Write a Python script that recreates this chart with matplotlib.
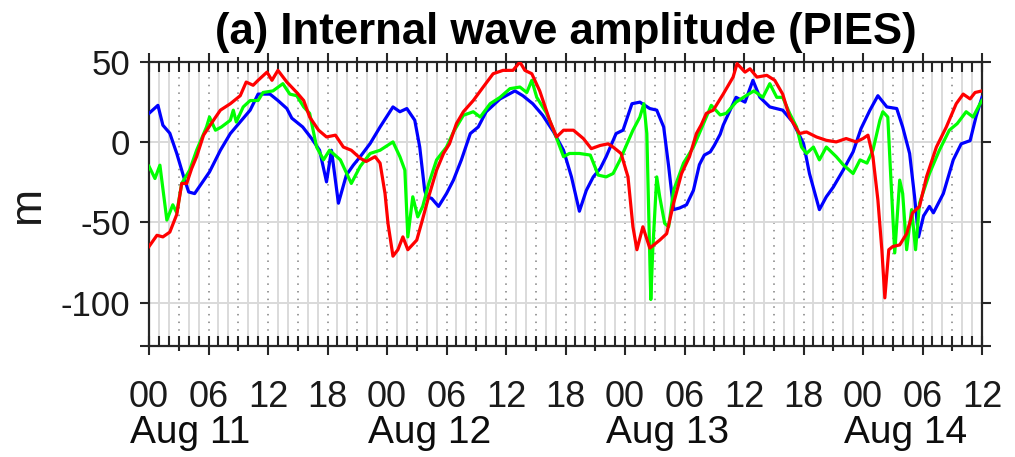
import matplotlib
matplotlib.use('Agg')
import matplotlib.pyplot as plt
from matplotlib.ticker import MultipleLocator, NullFormatter

# ---------------- data (hours since Aug 11 00:00, amplitude in m) ----------------
blue_hours = [0, 0.9, 1.4, 2.1, 2.8, 3.5, 4.0, 4.6, 5.3, 6.1, 7.2, 8.2, 9.2, 10.2, 11.0,
              12.2, 13.0, 13.9, 14.4, 15.5, 16.4, 17.2, 17.9, 18.4, 19.1, 19.9, 20.6,
              21.3, 22.3, 23.3, 24.6, 25.3, 26.0, 26.8, 27.3, 27.8, 28.0, 28.5, 29.2,
              30.0, 30.7, 31.5, 32.4, 33.2, 34.0, 35.4, 36.9, 37.7, 38.7, 39.7, 40.8,
              41.8, 42.6, 43.4, 44.1, 44.8, 45.5, 46.1, 47.1, 47.8, 48.7, 49.5, 50.5,
              51.2, 51.9, 52.4, 52.9, 53.5, 54.2, 54.9, 55.5, 56.0, 56.6, 57.0, 57.6,
              57.9, 59.2, 60.1, 60.9, 61.6, 62.6, 63.9, 64.9, 66.0, 66.6, 67.6, 68.3,
              69.0, 70.0, 71.0, 71.8, 72.7, 73.5, 74.4, 75.4, 76.0, 76.7, 77.2, 77.6,
              78.1, 78.7, 79.1, 80.1, 81.1, 81.9, 82.8, 83.4, 84.0]
blue_values = [18, 23, 10.6, 5.6, -7, -21.6, -31, -32, -25.7, -18.5, -5, 5.4, 12.7, 20, 30,
               30, 26, 21, 15, 9.5, 2.3, -5, -24.7, -5, -38, -20.5, -14.3,
               -9, -0.8, 9.5, 22, 19, 21, 13.7, -3, -30, -34, -35, -40,
               -32, -23.6, -11, 5.4, 9.5, 19, 27, 32, 29, 24, 16.8, 6.4,
               -5, -21.6, -43, -30, -21.6, -16.4, -9, 5.4, 7.5, 24, 25, 21,
               20, 9.5, -15, -42, -41, -39, -30, -14, -8, -6, -2, 5,
               10.6, 28, 25, 38.6, 28, 22, 20, 12.7, -0.8, -19.5, -42, -34,
               -28, -17.4, -6, 8.5, 20, 29, 22, 21, 9.5, -7, -34, -59,
               -46, -40, -44, -32, -11, -1, 1, 16, 28]

green_hours = [0, 0.6, 1.1, 1.8, 2.4, 2.8, 3.3, 4.1, 4.8, 5.8, 6.1, 6.7, 7.3, 8.2, 8.5,
               8.8, 9.5, 10.2, 11.0, 11.5, 12.5, 13.5, 14.2, 14.9, 15.6, 16.2, 16.9,
               17.6, 18.2, 19.3, 20.4, 21.3, 22.3, 23.3, 24.6, 25.3, 25.8, 26.1, 26.6,
               27.1, 27.6, 28.2, 29.0, 30.0, 30.7, 31.7, 32.7, 33.4, 34.4, 35.4, 36.4,
               37.4, 38.1, 38.6, 39.1, 40.1, 40.8, 41.8, 42.4, 43.4, 44.5, 45.3, 46.1,
               46.8, 47.5, 48.2, 48.8, 49.5, 49.9, 50.2, 50.4, 50.6, 50.8, 51.2, 51.5,
               52.0, 52.4, 52.9, 53.4, 53.9, 54.9, 55.7, 56.7, 57.6, 58.2, 59.2, 60.2,
               61.0, 61.9, 62.6, 63.3, 63.9, 64.6, 65.3, 65.8, 66.3, 67.0, 67.6, 68.3,
               69.3, 70.0, 71.0, 71.7, 72.4, 73.0, 73.7, 74.0, 74.5, 74.8, 75.2, 75.7,
               76.0, 76.4, 76.9, 77.3, 77.7, 78.7, 79.7, 80.7, 81.5, 82.4, 83.1, 83.8,
               84.0]
green_values = [-15, -22.6, -14.3, -48.5, -39, -44, -25.7, -17.4, -5, 9.5, 15.7, 7.5, 9.5, 13.7, 20,
                12.6, 22, 26, 26, 31, 32, 36.5, 30, 29, 22, 18, -3,
                -11, -5, -11, -25.7, -15, -7, -5, 0.2, -9, -17.4, -59, -34,
                -46.5, -40, -26, -11, -3, 6.4, 16.8, 19, 15.7, 24, 28, 33.4,
                34.4, 31, 38.6, 28, 18, 7.5, -9, -7, -7, -8, -20.5, -21.6,
                -19.5, -11, -1, 7.5, 15.7, 24, 5.4, -46.5, -98, -67, -21.6, -34,
                -50.6, -52.7, -30, -21.6, -13, -3, 8.5, 23, 17, 18, 25, 29,
                32, 28, 36.5, 28, 28, 18, 9.5, -3, -7, -3, -11, -3,
                -9, -14, -19.5, -11, -13, -5, 13.7, 19, 15.7, -21.6, -69, -23.6,
                -32, -67, -42, -67, -38, -19.5, -5, 7.5, 11.6, 19, 15.7, 24,
                26]

red_hours = [0, 0.8, 1.4, 2.1, 2.8, 3.3, 3.8, 4.3, 4.8, 5.5, 6.5, 7.2, 8.2, 9.2, 9.8,
             10.5, 11.0, 11.9, 12.4, 13.0, 13.9, 14.9, 15.6, 16.2, 17.1, 17.9, 18.8,
             19.6, 20.4, 21.3, 21.9, 22.8, 23.3, 23.8, 24.1, 24.6, 25.1, 25.6, 26.1,
             27.0, 27.5, 28.2, 29.0, 29.7, 30.3, 31.0, 31.7, 32.7, 33.7, 34.7, 35.7,
             36.7, 37.4, 37.9, 38.6, 39.4, 40.4, 41.1, 41.8, 42.8, 43.8, 44.6, 45.5,
             46.3, 46.8, 47.6, 48.3, 48.8, 49.2, 49.8, 50.5, 51.5, 52.2, 52.9, 53.7,
             54.5, 55.2, 55.7, 56.2, 56.9, 57.9, 58.9, 59.3, 60.1, 60.6, 61.3, 62.3,
             63.1, 63.9, 64.6, 65.6, 66.3, 67.3, 68.3, 69.3, 70.3, 71.3, 72.0, 72.5,
             73.0, 73.5, 73.9, 74.2, 74.6, 75.0, 75.7, 76.4, 77.0, 77.7, 78.4, 79.4,
             80.4, 81.4, 82.1, 82.8, 83.3, 84.0]
red_values = [-65, -58, -59, -56, -45, -25.7, -25.7, -16.4, -9, 4.4, 13.7, 20, 24, 29, 37.5,
              35.5, 38.6, 43.7, 38.6, 44.8, 37.5, 31, 26, 15.7, 7.5, 3.3, 4.4,
              -3, -5, -10, -12, -9, -13, -32, -50.6, -71, -67, -59, -67,
              -61, -50, -34, -17.4, -7, -1, 11.6, 19, 26, 34.4, 42.7, 44.8,
              44.8, 50, 44.8, 42.7, 32, 13.7, 3.3, 7.5, 7.5, 2.3, -4, -2,
              -1, -3, -7, -21.6, -52.7, -67, -52.7, -66, -61, -57, -38, -19.5,
              -9, 5.4, 11, 18, 20, 30, 40.6, 49, 43.7, 45.8, 40.6, 41.7,
              38.6, 30, 15.7, 5.4, 6.4, 3.3, 1.2, 0.2, 2.3, 0.2, 2.3, 4.4,
              -9, -36, -67, -97, -67, -65, -64, -57, -44, -40, -21.6, -3,
              9.5, 24, 30, 27, 31, 32]

hour_ticks = [0, 6, 12, 18, 24, 30, 36, 42, 48, 54, 60, 66, 72, 78, 84]
hour_tick_labels = ['00', '06', '12', '18', '00', '06', '12', '18',
                    '00', '06', '12', '18', '00', '06', '12']
three_hour_ticks = [3, 9, 15, 21, 27, 33, 39, 45, 51, 57, 63, 69, 75, 81]
day_starts = [0, 24, 48, 72]
day_labels = ['Aug 11', 'Aug 12', 'Aug 13', 'Aug 14']
y_ticks = [-127, -100, -50, 0, 50]
y_tick_labels = ['', '-100', '-50', '0', '50']

# ---------------- figure ----------------
plt.rcParams['font.family'] = ['Liberation Sans', 'DejaVu Sans']
dark = '#262626'

fig = plt.figure(figsize=(10.15, 4.57), dpi=100)
ax = fig.add_axes([0.1468, 0.2429, 0.8207, 0.6214])

ax.plot(blue_hours, blue_values, color='#0000ff', lw=2.3, zorder=3)
ax.plot(green_hours, green_values, color='#00ff00', lw=2.3, zorder=4)
ax.plot(red_hours, red_values, color='#ff0000', lw=2.3, zorder=5)

ax.set_xlim(0, 84)
ax.set_ylim(-127, 50)

for s in ax.spines.values():
    s.set_color(dark)
    s.set_linewidth(1.6)

# x: ticks every hour inside, grid dotted every 3 h
ax.xaxis.set_major_locator(MultipleLocator(3))
ax.xaxis.set_minor_locator(MultipleLocator(1))
ax.xaxis.set_major_formatter(NullFormatter())
ax.tick_params(axis='x', which='both', direction='in', top=True, bottom=True,
               length=7, width=1.5, color=dark, labelbottom=False)
ax.grid(axis='x', which='minor', color='0.86', lw=1.4)
ax.grid(axis='x', which='major', color='0.5', lw=1.1, linestyle=(0, (1, 4)))

# y
ax.set_yticks(y_ticks, y_tick_labels)
ax.tick_params(axis='y', direction='out', left=True, right=True, length=6.5,
               width=1.5, color=dark, labelsize=25, pad=7, labelcolor='#1a1a1a')
ax.grid(axis='y', which='major', color='0.85', lw=1.4)
ax.set_axisbelow(True)

# outward ticks: 3 h (short) and 6 h (long, labelled)
for loc in ('bottom', 'top'):
    s3 = ax.secondary_xaxis(loc)
    s3.set_xticks(three_hour_ticks)
    s3.xaxis.set_major_formatter(NullFormatter())
    s3.tick_params(direction='out', length=3.5, width=1.5, color=dark)
    s3.spines[loc].set_visible(False)
    s6 = ax.secondary_xaxis(loc)
    s6.spines[loc].set_visible(False)
    if loc == 'bottom':
        s6.set_xticks(hour_ticks, hour_tick_labels)
        s6.tick_params(direction='out', length=6.5, width=1.5, color=dark,
                       labelsize=26, pad=18, labelcolor='#1a1a1a')
    else:
        s6.set_xticks(hour_ticks)
        s6.xaxis.set_major_formatter(NullFormatter())
        s6.tick_params(direction='out', length=6.5, width=1.5, color=dark)

for d, lab in zip(day_starts, day_labels):
    ax.annotate(lab, xy=(d, 0), xycoords=('data', 'axes fraction'),
                xytext=(-13.5, -70), textcoords='offset points',
                ha='left', va='baseline', fontsize=28, color='#0d0d0d',
                annotation_clip=False)

ax.set_ylabel('m', fontsize=32, labelpad=9, color='#1a1a1a')
ax.set_title('(a) Internal wave amplitude (PIES)', fontsize=31.5, fontweight='bold',
             y=1.0, pad=13)

fig.savefig('out.png', dpi=100)
